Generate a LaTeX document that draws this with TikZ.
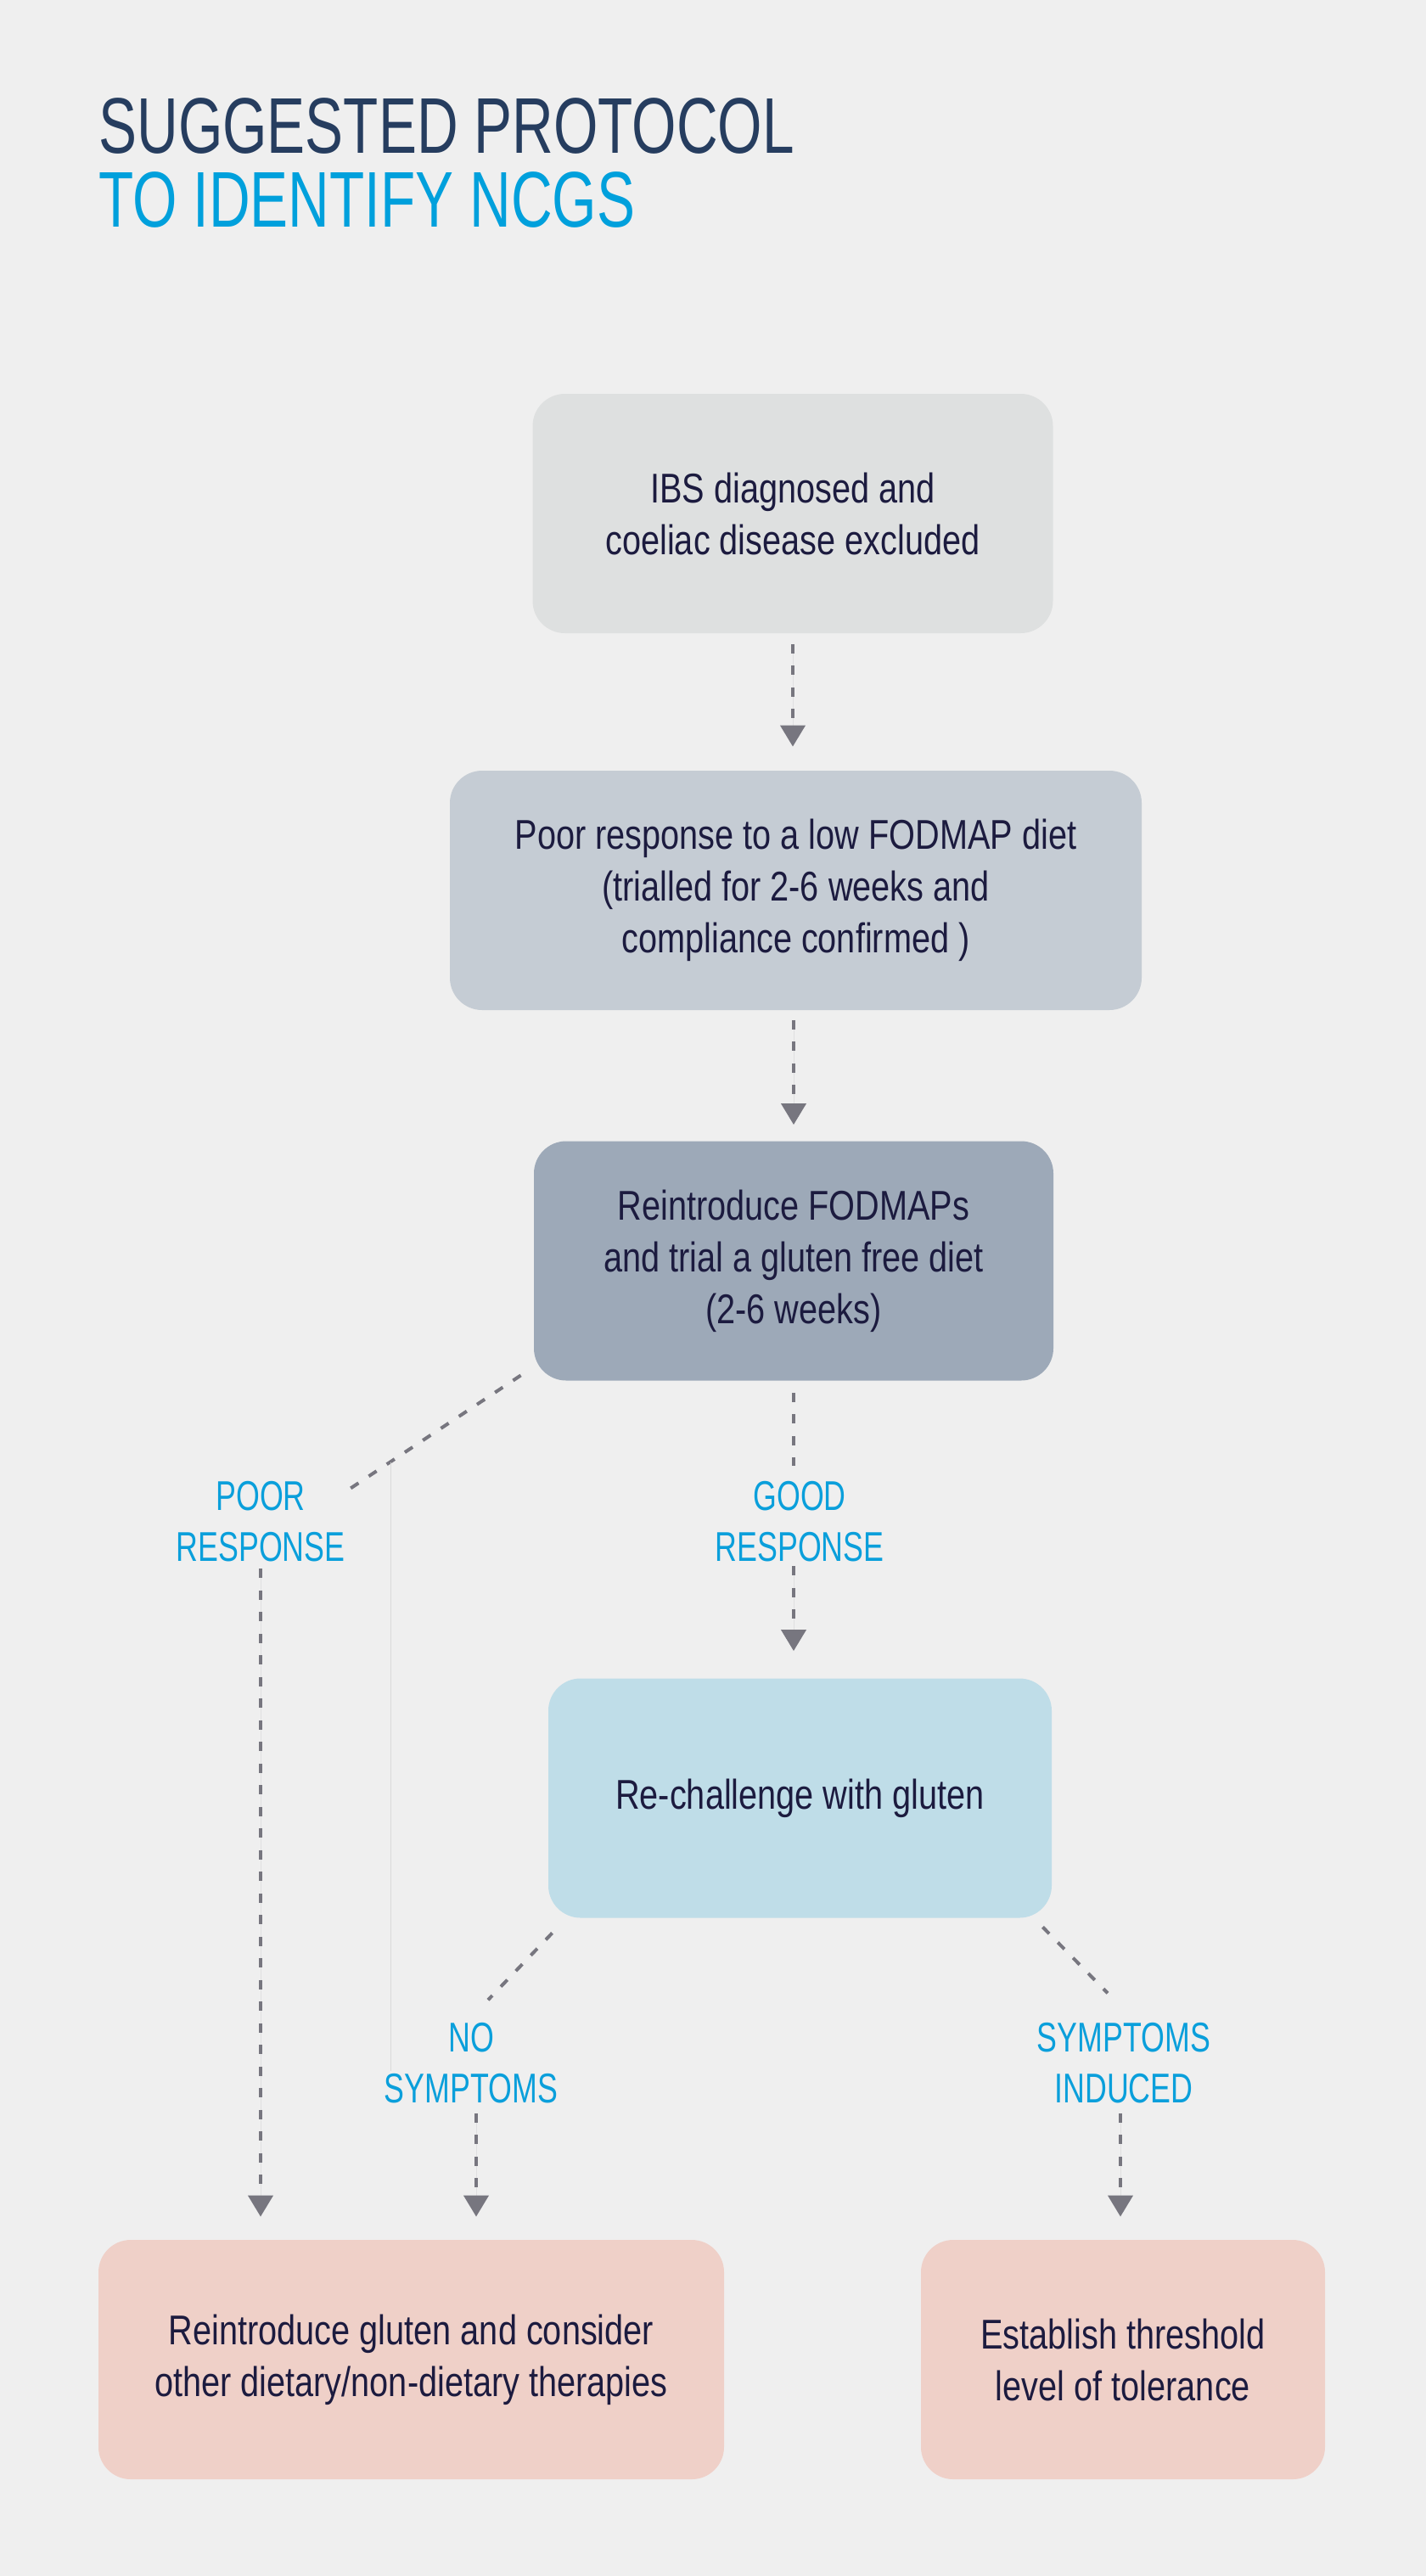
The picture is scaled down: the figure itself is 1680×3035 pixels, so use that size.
\documentclass[tikz,border=0pt]{standalone}
\usepackage{fontspec}
\setmainfont{Liberation Sans}
\newfontfamily\headfont{Liberation Sans}[FakeStretch=0.725]
\newfontfamily\bodyfont{Liberation Sans}[FakeStretch=0.81]
\newfontfamily\answerfont{Liberation Sans}[FakeStretch=0.73]
\usetikzlibrary{arrows.meta}
\definecolor{bggrey}{HTML}{EFEFEF}
\definecolor{titlenavy}{HTML}{263D5F}
\definecolor{titleblue}{HTML}{00A0DC}
\definecolor{textnavy}{HTML}{1C1B3F}
\definecolor{labelblue}{HTML}{0A9FDB}
\definecolor{stagegrey}{HTML}{DEE0E0}
\definecolor{stageslate}{HTML}{C5CCD4}
\definecolor{stagesteel}{HTML}{9DA9B8}
\definecolor{stageblue}{HTML}{BFDDE8}
\definecolor{stagepink}{HTML}{EFD0C8}
\definecolor{dashgrey}{HTML}{77767F}
\definecolor{hairgrey}{HTML}{D9D9D9}
\begin{document}
\begin{tikzpicture}[x=0.5pt, y=-0.5pt]
	\tikzstyle{heading}=[anchor=base west, inner sep=0, font={\headfont\fontsize{46.5pt}{43.5pt}\selectfont}]
	\tikzstyle{stage}=[rectangle, rounded corners=19pt, minimum height=141pt, inner sep=0, align=center, text=textnavy, font={\bodyfont\fontsize{24.5pt}{30.5pt}\selectfont}]
	\tikzstyle{answer}=[inner sep=0, align=center, text=labelblue, font={\answerfont\fontsize{24.5pt}{30pt}\selectfont}]
	\tikzstyle{flow}=[draw=dashgrey, line width=2pt, dash pattern=on 5.5pt off 7.25pt]
	\tikzstyle{flowarrow}=[flow, -{Triangle[width=14.5pt, length=12.5pt, sep=6pt]}, fill=dashgrey]
	\fill[bggrey] (0, 0) rectangle (1680, 3035);
	% title
	\draw node[heading, text=titlenavy] at (116, 180) (title1) {SUGGESTED PROTOCOL};
	\draw node[heading, text=titleblue] at (116, 267) (title2) {TO IDENTIFY NCGS};
	% steps
	\draw node[stage, fill=stagegrey, minimum width=306.5pt] at (934, 605) (ibs) {IBS diagnosed and\\coeliac disease excluded};
	\draw node[stage, fill=stageslate, minimum width=407.5pt] at (937.5, 1049) (lowfod) {Poor response to a low FODMAP diet\\(trialled for 2-6 weeks and\\compliance confirmed )};
	\draw node[stage, fill=stagesteel, minimum width=306pt] at (935, 1485.5) (glutenfree) {Reintroduce FODMAPs\\and trial a gluten free diet\\(2-6 weeks)};
	\draw node[stage, fill=stageblue, minimum width=296.5pt] at (942.5, 2118.5) (challenge) {Re-challenge with gluten};
	\draw node[stage, fill=stagepink, minimum width=368.5pt] at (484.5, 2780) (reintro) {Reintroduce gluten and consider\\other dietary/non-dietary therapies};
	\draw node[stage, fill=stagepink, minimum width=238pt] at (1323, 2780) (threshold) {Establish threshold\\level of tolerance};
	% outcomes
	\draw node[answer] at (307, 1792.5) (poor) {POOR\\RESPONSE};
	\draw node[answer] at (942, 1792.5) (good) {GOOD\\RESPONSE};
	\draw node[answer] at (555, 2431) (nosym) {NO\\SYMPTOMS};
	\draw node[answer] at (1324, 2431) (induced) {SYMPTOMS\\INDUCED};
	
	\draw [flowarrow, shorten <=6.25pt, shorten >=8pt] (ibs.south) -- (ibs.south |- lowfod.north);
	\draw [flowarrow, shorten <=5.75pt, shorten >=3.5pt] (glutenfree.north |- lowfod.south) -- (glutenfree.north);
	\draw [flow, shorten <=7pt, shorten >=9pt] (glutenfree.south) -- (glutenfree.south |- good.north);
	\draw [flowarrow, shorten <=2.5pt, shorten >=10pt] (glutenfree.south |- good.south) -- (glutenfree.south |- challenge.north);
	\draw [flow] ([shift={(-15,-6.5)}]glutenfree.south west) -- ([shift={(-5.5,16.5)}]poor.north east);
	\draw [flowarrow, shorten <=4pt, shorten >=7.5pt] (poor.south) -- (poor.south |- reintro.north);
	\draw [draw=hairgrey, line width=0.5pt] (460, 1723) -- (460, 2440);
	\draw [flow] ([shift={(5,17.5)}]challenge.south west) -- ([shift={(20,-27)}]nosym.north);
	\draw [flowarrow, shorten <=5.5pt, shorten >=7.5pt] ([xshift=3pt]nosym.south) -- ([xshift=3pt]nosym.south |- reintro.north);
	\draw [flow] ([shift={(-11,10.5)}]challenge.south east) -- ([shift={(-19,-35)}]induced.north);
	\draw [flowarrow, shorten <=5.5pt, shorten >=7.5pt] ([xshift=-2pt]induced.south) -- ([xshift=-2pt]induced.south |- threshold.north);
\end{tikzpicture}
\end{document}
